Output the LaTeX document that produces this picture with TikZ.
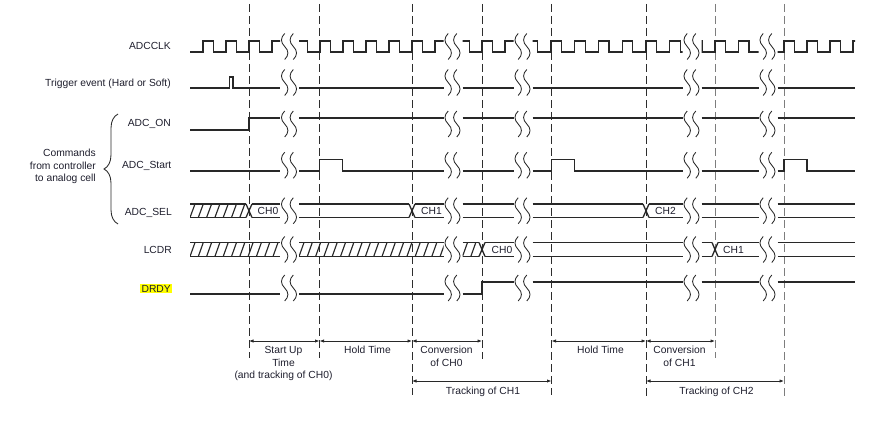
\documentclass[tikz,border=0pt]{standalone}
\usepackage{fontspec}
\setmainfont{Liberation Sans}
\usetikzlibrary{arrows.meta,decorations.pathreplacing}
\definecolor{ln}{RGB}{40,40,40}
\definecolor{tx}{RGB}{30,30,45}
\definecolor{dk}{RGB}{45,45,45}
\definecolor{lt}{RGB}{125,125,125}
\definecolor{hl}{RGB}{255,255,0}
% break mark (two wavy lines) at x=#1, centred on y=#2
\newcommand\tdbreak[2]{%
  \foreach \dx in {-4.3,4.3}{%
    \draw[brk] ({#1+\dx},{#2-13}) .. controls ({#1+\dx-4.3},{#2-8.7}) and ({#1+\dx-4.3},{#2-4.3}) .. ({#1+\dx},{#2}) .. controls ({#1+\dx+4.3},{#2+4.3}) and ({#1+\dx+4.3},{#2+8.7}) .. ({#1+\dx},{#2+13});}}
% clock segment: from #1 to #2, first rising edge #3, period #4
\newcommand\clkseg[4]{%
  \begin{scope}
    \clip (#1,30) rectangle (#2,62);
    \draw[sig] ({#3-#4},52) \foreach \k in {0,...,7}{ -- ({#3+\k*#4},52) -- ({#3+\k*#4},41) -- ({#3+\k*#4+10.5},41) -- ({#3+\k*#4+10.5},52)};
  \end{scope}}
% hatched bus segment
\newcommand\hatchseg[4]{%
  \begin{scope}
    \clip (#1,#3) rectangle (#2,#4);
    \foreach \h in {-1,...,18}{\draw[hat] ({#1+\h*8.3},#4) -- ({#1+\h*8.3+5},#3);}
  \end{scope}
  \draw[sig] (#1,#3) -- (#2,#3) (#1,#4) -- (#2,#4);}
% plain bus segment
\newcommand\busseg[4]{\draw[sig] (#1,#3) -- (#2,#3) (#1,#4) -- (#2,#4);}
% bus transition cross
\newcommand\xcross[3]{\draw[sig] ({#1-3},#2) -- ({#1+3},#3) ({#1-3},#3) -- ({#1+3},#2);}
\begin{document}
\begin{tikzpicture}[x=1pt,y=-1pt,
  sig/.style={draw=ln,line width=1.3pt},
  hat/.style={draw=ln,line width=1.15pt},
  brk/.style={draw=ln,line width=0.85pt},
  vd/.style={line width=1pt,dash pattern=on 8pt off 4pt},
  >={Latex[length=4.5pt,width=3.4pt]},
  dim/.style={draw=ln,line width=0.85pt,<->},
  every node/.style={font=\fontsize{10.3}{12.6}\selectfont,text=tx,inner sep=0pt},
  lab/.style={anchor=base east},
  chl/.style={anchor=base west},
  ann/.style={anchor=base}]
\useasboundingbox (0,0) rectangle (885,422);

% ---------- vertical dashed guide lines ----------
\foreach \n/\x/\b/\c in {1/249/358/dk,2/319.5/358/dk,3/412/395/dk,4/482/359/dk,5/551.5/395/dk,6/646/396/dk,7/715/358/lt,8/784/397/lt}{
  \coordinate (top\n) at (\x,4);
  \coordinate (bot\n) at (\x,\b);
  \coordinate (u\n) at (\x,341);
  \coordinate (w\n) at (\x,381);
  \draw[vd,draw=\c] (top\n) -- (bot\n);
}

% ---------- labels ----------
\node[lab] (lclk) at (171,49.5) {ADCCLK};
\node[lab] (ltrig) at (171,86.7) {Trigger event (Hard or Soft)};
\node[lab] (lon) at (171,126.4) {ADC\_ON};
\node[lab] (lstart) at (171.5,168.7) {ADC\_Start};
\node[lab] (lsel) at (172,215.7) {ADC\_SEL};
\node[lab] (llcdr) at (172,253.7) {LCDR};
\node[lab,fill=hl,inner xsep=1.2pt,inner ysep=1.3pt] (ldrdy) at (172.2,292) {DRDY};
\node[anchor=east,align=right] (cmd) at (96,166.7) {Commands\\from controller\\to analog cell};
\coordinate (bb) at (118,224);
\coordinate (bt) at (118,114);
\draw[draw=ln,line width=0.85pt,decorate,decoration={brace,amplitude=14pt}] (bb) -- (bt);

% ---------- ADCCLK ----------
\clkseg{190}{280}{203}{23}
\clkseg{299}{443.5}{297}{23}
\clkseg{462.5}{513.5}{459}{23}
\clkseg{532.5}{682.5}{527.25}{23.75}
\clkseg{701.5}{758.5}{691.5}{23.5}
\clkseg{777.5}{855}{761}{23}

% ---------- Trigger ----------
\draw[sig] (190,88) -- (229.5,88) -- (229.5,77) -- (233,77) -- (233,88) -- (280,88);
\draw[sig] (299,88) -- (443.5,88) (462.5,88) -- (513.5,88) (532.5,88) -- (682.5,88) (701.5,88) -- (758.5,88) (777.5,88) -- (855,88);

% ---------- ADC_ON ----------
\draw[sig] (190,130) -- (249,130) -- (249,118) -- (280,118);
\draw[sig] (299,118) -- (443.5,118) (462.5,118) -- (513.5,118) (532.5,118) -- (682.5,118) (701.5,118) -- (758.5,118) (777.5,118) -- (855,118);

% ---------- ADC_Start ----------
\draw[sig] (190,171) -- (280,171);
\draw[sig] (299,171) -- (319.5,171) -- (319.5,159.5) -- (342.5,159.5) -- (342.5,171) -- (443.5,171);
\draw[sig] (462.5,171) -- (513.5,171);
\draw[sig] (532.5,171) -- (551.5,171) -- (551.5,159.5) -- (574.5,159.5) -- (574.5,171) -- (682.5,171);
\draw[sig] (701.5,171) -- (758.5,171);
\draw[sig] (777.5,171) -- (784,171) -- (784,159.5) -- (807,159.5) -- (807,171) -- (855,171);

% ---------- ADC_SEL ----------
\hatchseg{190}{246}{204}{217.5}
\xcross{249}{204}{217.5}
\busseg{252}{280}{204}{217.5}
\busseg{299}{409}{204}{217.5}
\xcross{412}{204}{217.5}
\busseg{415}{443.5}{204}{217.5}
\busseg{462.5}{513.5}{204}{217.5}
\busseg{532.5}{643}{204}{217.5}
\xcross{646}{204}{217.5}
\busseg{649}{682.5}{204}{217.5}
\busseg{701.5}{758.5}{204}{217.5}
\busseg{777.5}{855}{204}{217.5}
\node[chl] (sel0) at (257.5,214.5) {CH0};
\node[chl] (sel1) at (421,214.5) {CH1};
\node[chl] (sel2) at (655,214.5) {CH2};

% ---------- LCDR ----------
\hatchseg{190}{280}{242.5}{256.5}
\hatchseg{299}{443.5}{242.5}{256.5}
\hatchseg{462.5}{479}{242.5}{256.5}
\xcross{482}{242.5}{256.5}
\busseg{485}{513.5}{242.5}{256.5}
\busseg{532.5}{682.5}{242.5}{256.5}
\busseg{701.5}{712}{242.5}{256.5}
\xcross{715}{242.5}{256.5}
\busseg{718}{758.5}{242.5}{256.5}
\busseg{777.5}{855}{242.5}{256.5}
\node[chl] (lc0) at (491.5,253.2) {CH0};
\node[chl] (lc1) at (723,253.2) {CH1};

% ---------- DRDY ----------
\draw[sig] (190,294) -- (280,294) (299,294) -- (443.5,294);
\draw[sig] (462.5,294) -- (482,294) -- (482,282) -- (513.5,282);
\draw[sig] (532.5,282) -- (682.5,282) (701.5,282) -- (758.5,282) (777.5,282) -- (855,282);

% ---------- break marks ----------
\foreach \c in {289,452.5,522.5,691.5,767.5}{
  \foreach \yy in {46.5,82.5,124,165.25,210.75,249.5,288}{\tdbreak{\c}{\yy}}}

% ---------- time intervals ----------
\draw[dim] (u1) -- (u2);
\draw[dim] (u2) -- (u3);
\draw[dim] (u3) -- (u4);
\draw[dim] (u5) -- (u6);
\draw[dim] (u6) -- (u7);
\draw[dim] (w3) -- (w5);
\draw[dim] (w6) -- (w8);
\node[ann] (su1) at (283.5,353) {Start Up};
\node[ann] (su2) at (283.5,366) {Time};
\node[ann] (su3) at (283.5,378.5) {(and tracking of CH0)};
\node[ann] (ho1) at (367.5,353) {Hold Time};
\node[ann] (cv0a) at (446.5,353) {Conversion};
\node[ann] (cv0b) at (446.5,366) {of CH0};
\node[ann] (tr1) at (483,394) {Tracking of CH1};
\node[ann] (ho2) at (600.5,353) {Hold Time};
\node[ann] (cv1a) at (679.5,353) {Conversion};
\node[ann] (cv1b) at (679.5,366) {of CH1};
\node[ann] (tr2) at (716.5,394) {Tracking of CH2};
\end{tikzpicture}
\end{document}
